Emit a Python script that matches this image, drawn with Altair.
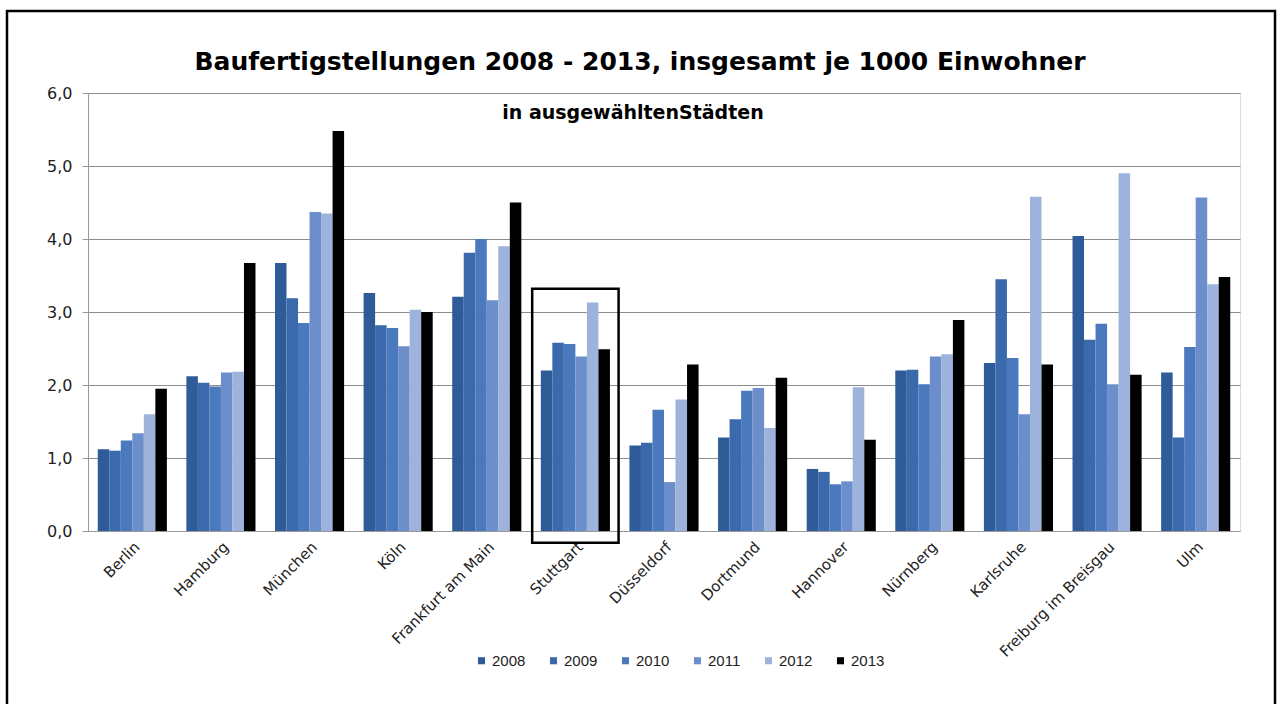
import altair as alt
import pandas as pd

cities = ["Berlin", "Hamburg", "München", "Köln", "Frankfurt am Main", "Stuttgart",
          "Düsseldorf", "Dortmund", "Hannover", "Nürnberg", "Karlsruhe",
          "Freiburg im Breisgau", "Ulm"]
years = ["2008", "2009", "2010", "2011", "2012", "2013"]
v2008 = [1.12, 2.12, 3.67, 3.26, 3.21, 2.20, 1.17, 1.28, 0.85, 2.20, 2.30, 4.04, 2.17]
v2009 = [1.10, 2.03, 3.19, 2.82, 3.81, 2.58, 1.21, 1.53, 0.81, 2.21, 3.45, 2.62, 1.28]
v2010 = [1.24, 1.98, 2.85, 2.78, 4.00, 2.56, 1.66, 1.92, 0.64, 2.01, 2.37, 2.84, 2.52]
v2011 = [1.34, 2.17, 4.37, 2.53, 3.16, 2.39, 0.67, 1.96, 0.68, 2.39, 1.60, 2.01, 4.57]
v2012 = [1.60, 2.18, 4.35, 3.03, 3.90, 3.13, 1.80, 1.41, 1.97, 2.42, 4.58, 4.90, 3.38]
v2013 = [1.95, 3.67, 5.48, 3.00, 4.50, 2.49, 2.28, 2.10, 1.25, 2.89, 2.28, 2.14, 3.48]
colors = ["#2F5C98", "#3A69AC", "#4A79BE", "#6C8ECB", "#9DB3DC", "#000000"]

title_text = "Baufertigstellungen 2008 - 2013, insgesamt je 1000 Einwohner"
subtitle_text = "in ausgewähltenStädten"

highlight_city = ["Stuttgart"]
highlight_top = [3.32]
highlight_bottom = [-0.16]

series = [v2008, v2009, v2010, v2011, v2012, v2013]
rows = []
for y, vals in zip(years, series):
    for c, v in zip(cities, vals):
        rows.append({"Stadt": c, "Jahr": y, "Wert": v})
df = pd.DataFrame(rows)
box_df = pd.DataFrame({"Stadt": highlight_city, "top": highlight_top, "bottom": highlight_bottom})

FONT = "Liberation Sans"
WIDE = "DejaVu Sans"

x_enc = alt.X("Stadt:N", sort=cities, title=None,
              scale=alt.Scale(paddingInner=0.22, paddingOuter=0.11),
              axis=alt.Axis(labelAngle=-45, labelFontSize=15, labelColor="#222",
                            labelFont=WIDE, ticks=False, domain=True,
                            domainColor="#999", labelPadding=8, grid=False))
y_scale = alt.Scale(domain=[0, 6], nice=False, zero=True)

bars = alt.Chart(df).mark_bar().encode(
    x=x_enc,
    xOffset=alt.XOffset("Jahr:N", sort=years, scale=alt.Scale(paddingInner=0, paddingOuter=0)),
    y=alt.Y("Wert:Q", scale=y_scale, title=None,
            axis=alt.Axis(values=[0, 1, 2, 3, 4, 5, 6],
                          labelExpr="replace(format(datum.value, '.1f'), '.', ',')",
                          labelFontSize=16, labelColor="#222", labelFont=WIDE,
                          labelPadding=10, tickSize=6, tickColor="#999",
                          domainColor="#999", gridColor="#8c8c8c", gridWidth=1.2)),
    color=alt.Color("Jahr:N", sort=years, scale=alt.Scale(domain=years, range=colors),
                    legend=alt.Legend(title=None, orient="none", direction="horizontal",
                                      columns=6, legendX=386, legendY=560,
                                      symbolType="square", symbolSize=50,
                                      labelFontSize=15, labelFont=FONT, labelColor="#222",
                                      columnPadding=20, labelOffset=3,
                                      symbolStrokeWidth=0)),
)

box = alt.Chart(box_df).mark_bar(filled=False, stroke="black", strokeWidth=2.5,
                                 width={"band": 1.25}).encode(
    x=alt.X("Stadt:N", sort=cities),
    y=alt.Y("top:Q", scale=y_scale),
    y2="bottom:Q",
)

title = alt.Chart(box_df).mark_text(text=title_text, fontSize=25,
                                    fontWeight="bold", font=WIDE, align="center",
                                    baseline="middle", color="black").encode(
    x=alt.value(552), y=alt.value(-31))

subtitle = alt.Chart(box_df).mark_text(text=subtitle_text, fontSize=19,
                                       fontWeight="bold", font=WIDE, align="center",
                                       baseline="middle", color="black").encode(
    x=alt.value(545), y=alt.value(20))

frame = alt.Chart(box_df).mark_rect(filled=False, stroke="black", strokeWidth=2.5).encode(
    x=alt.value(-81), x2=alt.value(1187), y=alt.value(-82), y2=alt.value(640))

chart = alt.layer(bars, box, title, subtitle, frame).properties(
    width=1152, height=438,
    autosize=alt.AutoSizeParams(type="none"),
    padding={"left": 88, "top": 93, "right": 37, "bottom": 173},
).configure_view(stroke=None).configure(background="white")

chart.save("out.html", embed_options={"renderer": "svg", "actions": False})
